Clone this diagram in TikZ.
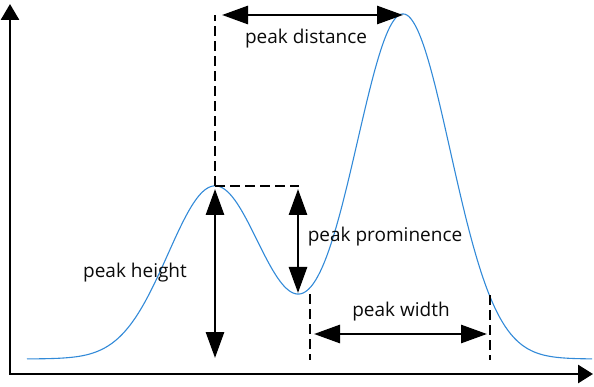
\documentclass[tikz,border=0pt]{standalone}
\usepackage{fontspec}
\setmainfont{Open Sans}
\usetikzlibrary{arrows.meta}
\definecolor{curveblue}{RGB}{50,138,216}
\definecolor{txt}{RGB}{10,10,10}
\begin{document}
\begin{tikzpicture}[x=1pt,y=-1pt,
  axis/.style={line width=2.8pt,{Triangle[length=16pt,width=18pt]}-{Triangle[length=15pt,width=18pt]}},
  dim/.style={line width=2.8pt,{Triangle[length=26pt,width=18pt]}-{Triangle[length=26pt,width=18pt]}},
  guide/.style={line width=2.3pt,dash pattern=on 10pt off 5pt},
  lbl/.style={font=\fontsize{19}{22}\selectfont,text=txt,inner sep=0pt}]
\useasboundingbox (0,0) rectangle (594,387);
% axes
\coordinate (ytop) at (10,4);
\coordinate (xend) at (593,374);
\draw[axis] (ytop) |- (xend);
% curve
\draw[curveblue,line width=1.1pt] plot[domain=27:592,samples=300,smooth]
  (\x,{359-173*exp(-min(((\x-215)/66.5)^2,9))-345*exp(-min(((\x-403)/66.5)^2,9))});
% key points
\coordinate (p1) at (215,186);
\coordinate (p1top) at (215,15);
\coordinate (p1r) at (299,186);
\coordinate (p1base) at (215,358);
\coordinate (p2) at (403,15);
\coordinate (dl) at (222,15);
\coordinate (v) at (298,293);
\coordinate (vtop) at (298,189);
\coordinate (wl) at (310,294);
\coordinate (wlb) at (310,360);
\coordinate (wr) at (490,295);
\coordinate (wrb) at (490,360);
\coordinate (wa) at (314,334);
\coordinate (wb) at (487,334);
\coordinate (hb) at (215,189);
% guides
\draw[guide] (p1) -- (p1top);
\draw[guide] (p1) -- (p1r);
\draw[guide] (wl) -- (wlb);
\draw[guide] (wr) -- (wrb);
% dimension arrows
\draw[dim] (dl) -- (p2);
\draw[dim] (hb) -- (p1base);
\draw[dim] (vtop) -- (v);
\draw[dim] (wa) -- (wb);
% labels
\node[lbl] (ldist) at (306,39) {peak distance};
\node[lbl] (lheight) at (135,273) {peak height};
\node[lbl] (lprom) at (385,237) {peak prominence};
\node[lbl] (lwidth) at (401,312) {peak width};
\end{tikzpicture}
\end{document}
